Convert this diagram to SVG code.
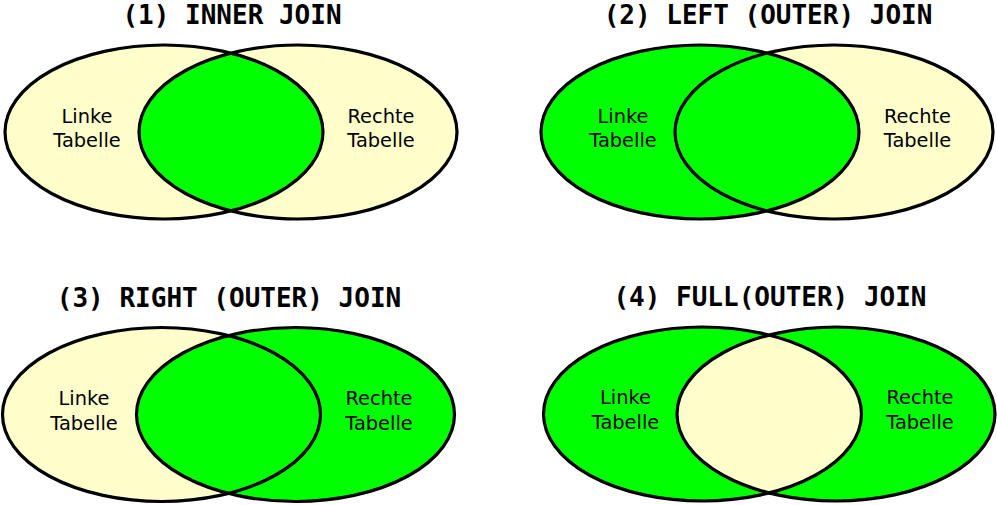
<svg xmlns="http://www.w3.org/2000/svg" width="997" height="505" viewBox="0 0 997 505">
<style>
.title{font-family:"DejaVu Sans Mono","Liberation Mono",monospace;font-weight:bold;font-size:26px;fill:#000;text-anchor:middle}
.lbl{font-family:"DejaVu Sans","Liberation Sans",sans-serif;font-size:19.4px;fill:#000;text-anchor:middle}
.y{fill:#ffffcc}
.g{fill:#00ff00}
.s{fill:none;stroke:#000;stroke-width:3.2}
</style>
<defs>
<clipPath id="c1"><ellipse cx="298" cy="132" rx="159" ry="87"/></clipPath>
<clipPath id="c2"><ellipse cx="834" cy="132" rx="159" ry="87"/></clipPath>
<clipPath id="c3"><ellipse cx="295.5" cy="414.5" rx="159" ry="87"/></clipPath>
<clipPath id="c4"><ellipse cx="836" cy="414" rx="159" ry="87"/></clipPath>
</defs>
<rect width="997" height="505" fill="#fff"/>

<g id="inner-join">
<text class="title" x="232" y="24">(1) INNER JOIN</text>
<ellipse class="y" cx="164" cy="132" rx="159" ry="87"/>
<ellipse class="y" cx="298" cy="132" rx="159" ry="87"/>
<ellipse class="g" cx="164" cy="132" rx="159" ry="87" clip-path="url(#c1)"/>
<ellipse class="s" cx="164" cy="132" rx="159" ry="87"/>
<ellipse class="s" cx="298" cy="132" rx="159" ry="87"/>
<g id="n1-left"><text class="lbl" x="87" y="122.5">Linke</text><text class="lbl" x="87" y="147">Tabelle</text></g>
<g id="n1-right"><text class="lbl" x="381" y="122.5">Rechte</text><text class="lbl" x="381" y="147">Tabelle</text></g>
</g>

<g id="left-join">
<text class="title" x="768" y="24">(2) LEFT (OUTER) JOIN</text>
<ellipse class="g" cx="700" cy="132" rx="159" ry="87"/>
<ellipse class="y" cx="834" cy="132" rx="159" ry="87"/>
<ellipse class="g" cx="700" cy="132" rx="159" ry="87" clip-path="url(#c2)"/>
<ellipse class="s" cx="700" cy="132" rx="159" ry="87"/>
<ellipse class="s" cx="834" cy="132" rx="159" ry="87"/>
<g id="n2-left"><text class="lbl" x="623" y="122.5">Linke</text><text class="lbl" x="623" y="147">Tabelle</text></g>
<g id="n2-right"><text class="lbl" x="917.5" y="122.5">Rechte</text><text class="lbl" x="917.5" y="147">Tabelle</text></g>
</g>

<g id="right-join">
<text class="title" x="229" y="306.5">(3) RIGHT (OUTER) JOIN</text>
<ellipse class="y" cx="161.5" cy="414.5" rx="159" ry="87"/>
<ellipse class="g" cx="295.5" cy="414.5" rx="159" ry="87"/>
<ellipse class="g" cx="161.5" cy="414.5" rx="159" ry="87" clip-path="url(#c3)"/>
<ellipse class="s" cx="161.5" cy="414.5" rx="159" ry="87"/>
<ellipse class="s" cx="295.5" cy="414.5" rx="159" ry="87"/>
<g id="n3-left"><text class="lbl" x="84" y="405">Linke</text><text class="lbl" x="84" y="430">Tabelle</text></g>
<g id="n3-right"><text class="lbl" x="379" y="405">Rechte</text><text class="lbl" x="379" y="430">Tabelle</text></g>
</g>

<g id="full-join">
<text class="title" x="770" y="306">(4) FULL(OUTER) JOIN</text>
<ellipse class="g" cx="702.5" cy="414" rx="159" ry="87"/>
<ellipse class="g" cx="836" cy="414" rx="159" ry="87"/>
<ellipse class="y" cx="702.5" cy="414" rx="159" ry="87" clip-path="url(#c4)"/>
<ellipse class="s" cx="702.5" cy="414" rx="159" ry="87"/>
<ellipse class="s" cx="836" cy="414" rx="159" ry="87"/>
<g id="n4-left"><text class="lbl" x="625.5" y="404">Linke</text><text class="lbl" x="625.5" y="428.5">Tabelle</text></g>
<g id="n4-right"><text class="lbl" x="920" y="404">Rechte</text><text class="lbl" x="920" y="428.5">Tabelle</text></g>
</g>
</svg>
